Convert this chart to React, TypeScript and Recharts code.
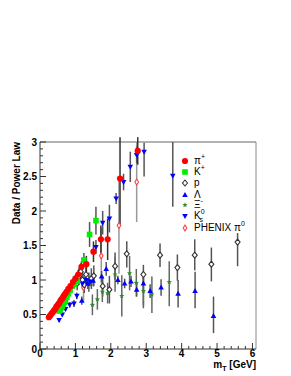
import {
  ErrorBar,
  ReferenceLine,
  Scatter,
  ScatterChart,
  XAxis,
  YAxis,
} from "recharts"

// each point: [mT, ratio, errLow, errHigh]
type Row = [number, number, number, number]

const piPlus: Row[] = [
  [0.25, 0.46, 0.02, 0.02], [0.28, 0.48, 0.02, 0.02], [0.31, 0.5, 0.02, 0.02],
  [0.34, 0.52, 0.02, 0.02], [0.37, 0.54, 0.02, 0.02], [0.4, 0.56, 0.02, 0.02],
  [0.43, 0.58, 0.02, 0.02], [0.46, 0.61, 0.02, 0.02], [0.49, 0.63, 0.02, 0.02],
  [0.52, 0.65, 0.02, 0.02], [0.55, 0.67, 0.02, 0.02], [0.58, 0.7, 0.02, 0.02],
  [0.61, 0.72, 0.02, 0.02], [0.64, 0.74, 0.02, 0.02], [0.67, 0.77, 0.03, 0.03],
  [0.71, 0.8, 0.03, 0.03], [0.75, 0.83, 0.03, 0.03], [0.8, 0.87, 0.04, 0.04],
  [0.86, 0.91, 0.04, 0.04], [0.93, 0.97, 0.05, 0.05], [1.0, 1.02, 0.06, 0.06],
  [1.08, 1.08, 0.07, 0.07], [1.17, 1.19, 0.08, 0.08], [1.31, 1.23, 0.12, 0.12],
  [1.51, 1.41, 0.15, 0.15], [1.72, 1.59, 0.2, 0.2], [1.91, 1.59, 0.3, 0.3],
  [2.26, 2.47, 0.67, 0.6], [2.76, 2.87, 0.2, 0.2],
]

const kPlus: Row[] = [
  [0.54, 0.55, 0.02, 0.02], [0.57, 0.57, 0.02, 0.02], [0.6, 0.6, 0.02, 0.02],
  [0.63, 0.62, 0.02, 0.02], [0.66, 0.65, 0.02, 0.02], [0.69, 0.68, 0.03, 0.03],
  [0.72, 0.71, 0.03, 0.03], [0.76, 0.75, 0.03, 0.03], [0.8, 0.8, 0.04, 0.04],
  [0.85, 0.85, 0.04, 0.04], [0.9, 0.91, 0.05, 0.05], [0.97, 0.94, 0.06, 0.06],
  [1.05, 0.98, 0.07, 0.07], [1.24, 1.29, 0.1, 0.1], [1.4, 1.66, 0.18, 0.18],
  [1.58, 1.86, 0.2, 0.2],
]

const proton: Row[] = [
  [1.05, 0.95, 0.1, 0.1], [1.1, 1.05, 0.12, 0.12], [1.15, 1.12, 0.12, 0.12],
  [1.2, 1.0, 0.12, 0.12], [1.25, 0.93, 0.12, 0.12], [1.3, 1.08, 0.14, 0.14],
  [1.38, 0.97, 0.14, 0.14], [1.45, 1.02, 0.15, 0.15], [1.52, 1.06, 0.15, 0.15],
  [1.77, 0.91, 0.15, 0.15], [1.96, 0.86, 0.2, 0.2], [2.12, 1.2, 0.2, 0.2],
  [2.45, 1.38, 0.2, 0.18], [2.92, 1.08, 0.45, 0.14], [3.39, 1.36, 0.17, 0.17],
  [3.88, 1.18, 0.19, 0.19], [4.37, 1.36, 0.22, 0.23], [4.84, 1.23, 0.25, 0.24],
  [5.58, 1.55, 0.35, 0.13],
]

const lambda: Row[] = [
  [1.18, 0.7, 0.06, 0.06], [1.35, 0.95, 0.08, 0.08], [1.5, 0.99, 0.08, 0.08],
  [1.74, 1.05, 0.08, 0.08], [1.87, 1.16, 0.1, 0.1], [2.2, 1.0, 0.06, 0.06],
  [2.39, 0.95, 0.07, 0.07], [2.57, 0.98, 0.08, 0.08], [2.73, 0.86, 0.1, 0.1],
  [2.92, 0.95, 0.1, 0.1], [3.11, 0.84, 0.1, 0.1], [3.42, 0.89, 0.12, 0.12],
  [3.9, 0.8, 0.2, 0.2], [4.38, 0.84, 0.25, 0.28], [4.9, 0.48, 0.25, 0.28],
]

const xi: Row[] = [
  [1.48, 0.64, 0.15, 0.15], [1.62, 0.72, 0.15, 0.15], [1.76, 0.83, 0.15, 0.15],
  [1.91, 0.81, 0.15, 0.15], [2.12, 1.08, 0.25, 0.25], [2.31, 0.77, 0.3, 0.3],
  [2.53, 1.1, 0.25, 0.25], [2.72, 0.96, 0.2, 0.2], [2.92, 0.84, 0.25, 0.25],
  [3.16, 0.79, 0.27, 0.26], [3.65, 0.97, 0.35, 0.3],
]

const k0s: Row[] = [
  [0.54, 0.42, 0.03, 0.03], [0.63, 0.5, 0.03, 0.03], [0.72, 0.58, 0.03, 0.03],
  [0.84, 0.64, 0.04, 0.04], [0.96, 0.66, 0.05, 0.05], [1.04, 0.77, 0.05, 0.05],
  [1.2, 0.95, 0.06, 0.06], [1.3, 1.0, 0.06, 0.06], [1.41, 0.98, 0.07, 0.07],
  [1.58, 1.48, 0.1, 0.1], [1.77, 1.83, 0.17, 0.17], [1.96, 1.89, 0.2, 0.2],
  [2.15, 2.18, 0.08, 0.08], [2.36, 2.42, 0.12, 0.12], [2.55, 2.64, 0.22, 0.22],
  [2.73, 2.81, 0.12, 0.12], [2.94, 2.86, 0.36, 0.13], [3.75, 2.51, 0.45, 0.49],
]

const phenixPi0: Row[] = [
  [1.23, 0.89, 0.2, 0.2], [1.73, 1.35, 0.4, 0.4], [2.23, 1.79, 0.7, 0.7],
  [2.73, 2.42, 0.58, 0.58],
]

const yMajorTicks = [0, 0.5, 1, 1.5, 2, 2.5, 3]
const yMinorTicks = [
  0.1, 0.2, 0.3, 0.4, 0.6, 0.7, 0.8, 0.9, 1.1, 1.2, 1.3, 1.4, 1.6, 1.7, 1.8,
  1.9, 2.1, 2.2, 2.3, 2.4, 2.6, 2.7, 2.8, 2.9,
]
const xMajorTicks = [0, 1, 2, 3, 4, 5, 6]
const xMinorTicks = [
  0.2, 0.4, 0.6, 0.8, 1.2, 1.4, 1.6, 1.8, 2.2, 2.4, 2.6, 2.8, 3.2, 3.4, 3.6,
  3.8, 4.2, 4.4, 4.6, 4.8, 5.2, 5.4, 5.6, 5.8,
]

const toPoints = (rows: Row[]) =>
  rows.map(([x, y, lo, hi]) => ({ x, y, err: [lo, hi] }))

const FONT = "'Liberation Sans', Arial, sans-serif"

const dot = (fill: string) => (p: any) => (
  <circle cx={p.cx} cy={p.cy} r={3.1} fill={fill} />
)
const square = (fill: string) => (p: any) => (
  <rect x={p.cx - 2.8} y={p.cy - 2.8} width={5.6} height={5.6} fill={fill} />
)
const openDiamond = (stroke: string, w: number, h: number) => (p: any) => (
  <path
    d={`M${p.cx},${p.cy - h}L${p.cx + w},${p.cy}L${p.cx},${p.cy + h}L${p.cx - w},${p.cy}Z`}
    fill="white"
    stroke={stroke}
    strokeWidth={1.1}
  />
)
const triUp = (fill: string) => (p: any) => (
  <path d={`M${p.cx},${p.cy - 3}L${p.cx + 2.8},${p.cy + 2}L${p.cx - 2.8},${p.cy + 2}Z`} fill={fill} />
)
const triDown = (fill: string) => (p: any) => (
  <path d={`M${p.cx},${p.cy + 3}L${p.cx + 2.8},${p.cy - 2}L${p.cx - 2.8},${p.cy - 2}Z`} fill={fill} />
)
const star = (fill: string) => (p: any) => {
  const pts: string[] = []
  for (let i = 0; i < 10; i++) {
    const r = i % 2 === 0 ? 2.8 : 1.2
    const a = (Math.PI / 5) * i - Math.PI / 2
    pts.push(`${p.cx + r * Math.cos(a)},${p.cy + r * Math.sin(a)}`)
  }
  return <polygon points={pts.join(" ")} fill={fill} />
}

function YTick({ x, y, payload }: any) {
  const major = yMajorTicks.includes(payload.value)
  return (
    <g>
      <line x1={x} x2={x + (major ? 6 : 3)} y1={y} y2={y} stroke="#333" />
      {major && (
        <text x={x - 3} y={y + 3.5} textAnchor="end" fontSize={10} fontWeight="bold" fontFamily={FONT} fill="#000">
          {payload.value}
        </text>
      )}
    </g>
  )
}

function XTick({ x, y, payload }: any) {
  const major = xMajorTicks.includes(payload.value)
  return (
    <g>
      <line x1={x} x2={x} y1={y} y2={y - (major ? 6 : 3)} stroke="#333" />
      {major && (
        <text x={x} y={y + 8} textAnchor="middle" fontSize={10} fontWeight="bold" fontFamily={FONT} fill="#000">
          {payload.value}
        </text>
      )}
    </g>
  )
}

const legendRows: { label: React.ReactNode; marker: (p: any) => React.ReactElement; top: number }[] = [
  { label: <>π<sup>+</sup></>, marker: dot("#ff0000"), top: 161 },
  { label: <>K<sup>+</sup></>, marker: square("#00ee00"), top: 171.5 },
  { label: "p", marker: openDiamond("#333", 2.5, 3), top: 182.5 },
  { label: "Λ", marker: triUp("#0000ff"), top: 194.5 },
  { label: <>Ξ<sup>-</sup></>, marker: star("#2e8b2e"), top: 205 },
  { label: <>K<sup>0</sup><sub style={{ marginLeft: -5 }}>s</sub></>, marker: triDown("#0000ff"), top: 216 },
  { label: <>PHENIX π<sup>0</sup></>, marker: openDiamond("#ff4040", 1.8, 3), top: 227.5 },
]

function LegendBox() {
  return (
    <div style={{ position: "absolute", left: 179, top: 0, width: 80, height: 376 }}>
      {legendRows.map((r, i) => (
        <div key={i} style={{ position: "absolute", left: 0, top: r.top - 6 }}>
          <svg width={12} height={12} style={{ position: "absolute", left: 0, top: 0 }}>
            {r.marker({ cx: 6, cy: 6 })}
          </svg>
          <span
            style={{
              position: "absolute",
              left: 15,
              top: 0,
              fontFamily: FONT,
              fontSize: 10,
              lineHeight: "12px",
              whiteSpace: "nowrap",
              color: "#000",
            }}
          >
            {r.label}
          </span>
        </div>
      ))}
    </div>
  )
}

const ERR = "#555"

export default function App() {
  return (
    <div style={{ position: "absolute", left: 0, top: 0, width: 291, height: 376, background: "#fff" }}>
      <style>{`sup{font-size:7px;vertical-align:5px;line-height:0} sub{font-size:7px;vertical-align:-3px;line-height:0}`}</style>
      <ScatterChart width={291} height={376} margin={{ top: 142, right: 35, left: 0, bottom: 0 }}>
        <XAxis
          dataKey="x"
          type="number"
          domain={[0, 6.1]}
          ticks={[...xMajorTicks, ...xMinorTicks]}
          interval={0}
          tick={<XTick />}
          tickLine={false}
          tickSize={0}
          tickMargin={0}
          axisLine={{ stroke: "#333" }}
          height={27}
          allowDataOverflow
        />
        <YAxis
          dataKey="y"
          type="number"
          domain={[0, 3]}
          ticks={[...yMajorTicks, ...yMinorTicks]}
          interval={0}
          tick={<YTick />}
          tickLine={false}
          tickSize={0}
          tickMargin={0}
          axisLine={{ stroke: "#333" }}
          width={40}
          allowDataOverflow
        />
        <ReferenceLine y={3} stroke="#666" />
        <ReferenceLine x={6.1} stroke="#888" />
        <Scatter data={toPoints(phenixPi0)} shape={openDiamond("#ff4040", 1.8, 3)} isAnimationActive={false}>
          <ErrorBar dataKey="err" direction="y" width={0} stroke="#999" />
        </Scatter>
        <Scatter data={toPoints(proton)} shape={openDiamond("#333", 2.5, 3)} isAnimationActive={false}>
          <ErrorBar dataKey="err" direction="y" width={0} stroke={ERR} />
        </Scatter>
        <Scatter data={toPoints(xi)} shape={star("#2e8b2e")} isAnimationActive={false}>
          <ErrorBar dataKey="err" direction="y" width={0} stroke="#666" />
        </Scatter>
        <Scatter data={toPoints(lambda)} shape={triUp("#0000ff")} isAnimationActive={false}>
          <ErrorBar dataKey="err" direction="y" width={0} stroke={ERR} />
        </Scatter>
        <Scatter data={toPoints(k0s)} shape={triDown("#0000ff")} isAnimationActive={false}>
          <ErrorBar dataKey="err" direction="y" width={0} stroke={ERR} />
        </Scatter>
        <Scatter data={toPoints(kPlus)} shape={square("#00ee00")} isAnimationActive={false}>
          <ErrorBar dataKey="err" direction="y" width={0} stroke={ERR} />
        </Scatter>
        <Scatter data={toPoints(piPlus)} shape={dot("#ff0000")} isAnimationActive={false}>
          <ErrorBar dataKey="err" direction="y" width={0} stroke="#333" />
        </Scatter>
        <text x={20} y={142} transform="rotate(-90, 20, 142)" textAnchor="end" fontSize={10} fontWeight="bold" fontFamily={FONT} fill="#000">
          Data / Power Law
        </text>
        <text x={256} y={368} textAnchor="end" fontSize={10} fontWeight="bold" fontFamily={FONT} fill="#000">
          m
          <tspan fontSize={7} dy={2.5}>T</tspan>
          <tspan dy={-2.5}> [GeV]</tspan>
        </text>
      </ScatterChart>
      <LegendBox />
    </div>
  )
}
